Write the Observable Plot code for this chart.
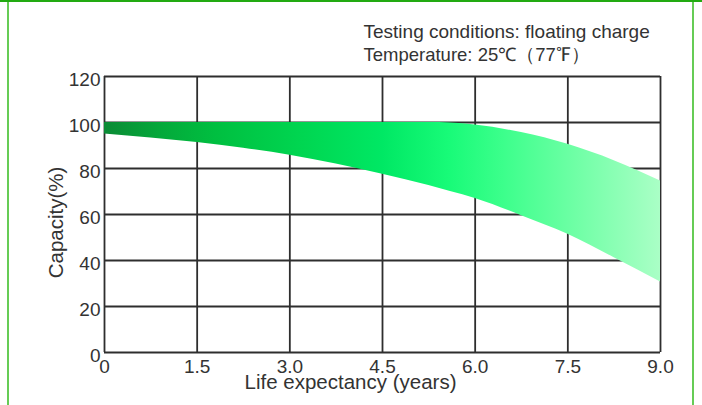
<!DOCTYPE html>
<html><head><meta charset="utf-8">
<script src="https://cdn.jsdelivr.net/npm/d3@7"></script>
<script src="https://cdn.jsdelivr.net/npm/@observablehq/plot@0.6"></script>
<style>
body{margin:0;background:#fff;}
#wrap{position:relative;width:702px;height:405px;overflow:hidden;}
#sides{position:absolute;left:7px;top:0;width:687px;height:430px;border-left:2px solid #66cc55;border-right:2px solid #66cc55;box-sizing:border-box;pointer-events:none;}
#topline{position:absolute;left:0;top:0;width:702px;height:2px;background:#22aa11;pointer-events:none;}
</style></head><body><div id="wrap"><div id="sides"></div><div id="topline"></div></div>
<script>
const years = [0, 0.75, 1.5, 2.25, 3, 3.75, 4.5, 5.25, 5.6, 6, 6.75, 7.5, 8.25, 9];
const capacityLow = [95, 93.3, 91.3, 88.8, 85.8, 82, 77.5, 72.6, 70, 67, 59.5, 51.4, 41.2, 30.6];
const capacityHigh = [100, 100, 100, 100, 100, 100, 100, 100, 99.8, 98.9, 95.6, 90.5, 83.4, 74.6];
const xTicks = [0, 1.5, 3, 4.5, 6, 7.5, 9];
const xTickLabels = ["0", "1.5", "3.0", "4.5", "6.0", "7.5", "9.0"];
const yTicks = [0, 20, 40, 60, 80, 100, 120];
const yTickLabels = ["0", "20", "40", "60", "80", "100", "120"];
const notes = ["Testing conditions: floating charge", "Temperature: 25℃（77℉）"];
const xTitle = "Life expectancy (years)";
const yTitle = "Capacity(%)";

const band = years.map((t, i) => ({t, lo: capacityLow[i], hi: capacityHigh[i]}));
const xLab = new Map(xTicks.map((d, i) => [d, xTickLabels[i]]));
const yLab = new Map(yTicks.map((d, i) => [d, yTickLabels[i]]));
const ink = "#333";

const svg = Plot.plot({
  width: 702,
  height: 405,
  marginLeft: 104,
  marginRight: 42,
  marginTop: 76,
  marginBottom: 53,
  style: {fontFamily: "'Liberation Sans', Arial, sans-serif", fontSize: "19px", color: ink, background: "transparent"},
  x: {domain: [0, 9]},
  y: {domain: [0, 120]},
  marks: [
    Plot.ruleX(xTicks, {stroke: "#2e2e2e", strokeWidth: 1.8}),
    Plot.ruleY(yTicks, {stroke: "#2e2e2e", strokeWidth: 1.8}),
    Plot.areaY(band, {x: "t", y1: "lo", y2: "hi", curve: "monotone-x", fill: "url(#bandGrad)"}),
    Plot.axisX(xTicks, {tickSize: 0, tickPadding: 7, tickFormat: d => xLab.get(d), fontSize: 19, fill: ink, label: null}),
    Plot.axisY(yTicks, {tickSize: 0, tickPadding: 4, tickFormat: d => yLab.get(d), fontSize: 19, fill: ink, dy: 3, label: null}),
    Plot.text([xTitle], {frameAnchor: "bottom", dx: -32, dy: 30, textAnchor: "middle", lineAnchor: "middle", fontSize: 20.5, fill: ink}),
    Plot.text([yTitle], {frameAnchor: "left", rotate: -90, dx: -48, dy: 8, textAnchor: "middle", lineAnchor: "middle", fontSize: 20.5, fill: ink}),
    Plot.text([notes[0]], {frameAnchor: "top-left", dx: 259, dy: -39, textAnchor: "start", lineAnchor: "bottom", fontSize: 19, fill: ink}),
    Plot.text([notes[1]], {frameAnchor: "top-left", dx: 259, dy: -16, textAnchor: "start", lineAnchor: "bottom", fontSize: 18.5, fill: ink})
  ]
});

const defs = d3.select(svg).insert("defs", ":first-child");
const g = defs.append("linearGradient").attr("id", "bandGrad").attr("x1", "0").attr("x2", "1").attr("y1", "0").attr("y2", "0");
[["0%", "#0b8a35"], ["10%", "#04a83a"], ["20%", "#00bf40"], ["35%", "#00d550"], ["50%", "#00e864"], ["62%", "#18fb78"], ["72%", "#3dff8c"], ["85%", "#70ffa6"], ["100%", "#aaffc6"]]
  .forEach(([o, c]) => g.append("stop").attr("offset", o).attr("stop-color", c));

document.getElementById("wrap").prepend(svg);
</script>
</body></html>
